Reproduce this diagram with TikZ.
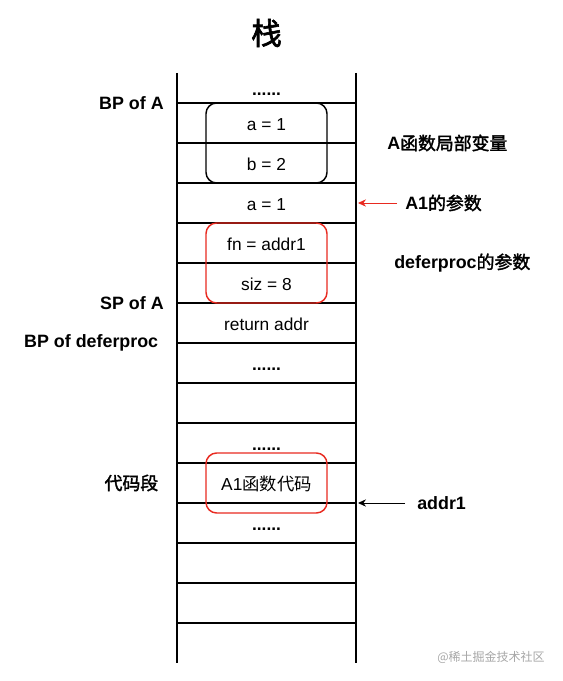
\documentclass[tikz,border=0pt]{standalone}
\usepackage{fontspec}
\setmainfont{Liberation Sans}
\newfontfamily\cjk{Noto Sans CJK SC}[AutoFakeBold=2]
\usetikzlibrary{positioning,fit,arrows.meta}
\definecolor{redline}{RGB}{232,42,32}
\newcommand*{\more}{\textbf{......}}

\begin{document}
\begin{tikzpicture}[x=0.75pt,y=-0.75pt,node distance=0pt]
	\tikzstyle{cell}=[rectangle, minimum width=134.25pt, minimum height=30pt, inner sep=0pt, outer sep=0pt,
	text height=12pt, text depth=0.5pt, font=\fontsize{13}{15}\selectfont]
	\tikzstyle{lbl}=[font=\fontsize{13.4}{15}\selectfont\bfseries, inner sep=2pt]
	\tikzstyle{group}=[draw=black, line width=1.1pt, rounded corners=8pt, inner ysep=0pt, inner xsep=-21.75pt]
	\tikzstyle{line}=[-, line width=0.8pt]
	\tikzstyle{pointer}=[-{Stealth[length=6pt,width=5.5pt]}, line width=0.7pt]
	\useasboundingbox (0,0) rectangle (563,681);
	\node (title) at (266.5,33) {\cjk\bfseries\fontsize{23}{26}\selectfont 栈};
	% the stack, top to bottom
	\node (top) [cell, minimum height=22.5pt] at (266.5,88) {\more};
	\node (a) [cell, below=of top] {a = 1};
	\node (b) [cell, below=of a] {b = 2};
	\node (aone) [cell, below=of b] {a = 1};
	\node (fn) [cell, below=of aone] {fn = addr1};
	\node (siz) [cell, below=of fn] {siz = 8};
	\node (ret) [cell, below=of siz] {return addr};
	\node (dotsA) [cell, below=of ret] {\more};
	\node (empA) [cell, below=of dotsA] {};
	\node (dotsB) [cell, below=of empA] {\more};
	\node (code) [cell, below=of dotsB] {A1{\cjk 函数代码}};
	\node (dotsC) [cell, below=of code] {\more};
	\node (empB) [cell, below=of dotsC] {};
	\node (empC) [cell, below=of empB] {};
	\node (empD) [cell, below=of empC] {};
	\draw[line] (top.north west) -- (empD.south west);
	\draw[line] (top.north east) -- (empD.south east);
	\foreach \c in {a,b,aone,fn,siz,ret,dotsA,empA,dotsB,code,dotsC,empB,empC,empD}
		\draw[line] (\c.north west) -- (\c.north east);
	\node (locals) [group, fit=(a)(b)] {};
	\node (dpargs) [group, draw=redline, fit=(fn)(siz)] {};
	\node (fnbox) [group, draw=redline, fit=(code), inner ysep=7.5pt] {};
	% labels on the left
	\node (bpA) [lbl, left=7.75pt of a.north west] {BP of A};
	\node (spA) [lbl, left=7.75pt of ret.north west] {SP of A};
	\node (bpD) [lbl, left=11.9pt of dotsA.north west] {BP of deferproc};
	\node (codel) [lbl, left=11.9pt of code.west] {\cjk 代码段};
	% labels on the right
	\node (locl) [lbl, right=21.25pt of b.north east] {A{\cjk 函数局部变量}};
	\node (aonel) [lbl, right=34.75pt of aone.east] {A1{\cjk 的参数}};
	\node (dpl) [lbl, right=26.5pt of siz.north east] {deferproc{\cjk 的参数}};
	\node (addrl) [lbl, right=43.75pt of code.south east] {addr1};
	\draw[pointer, redline, shorten <=4pt, shorten >=1.5pt] (aonel.west) -- (aone.east);
	\draw[pointer, shorten <=7pt, shorten >=1.5pt] (addrl.west) -- (code.south east);
	\node (wm) at (491,657) {\cjk\fontsize{9}{11}\selectfont\color{black!35}@稀土掘金技术社区};
\end{tikzpicture}
\end{document}
